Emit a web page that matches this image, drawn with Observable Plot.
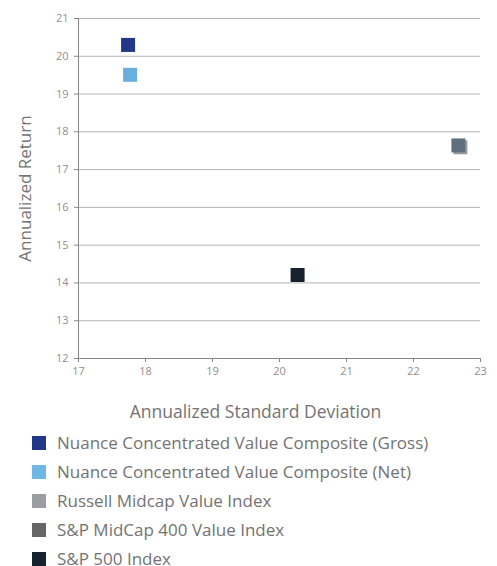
<!DOCTYPE html>
<html><head><meta charset="utf-8">
<script src="https://cdn.jsdelivr.net/npm/d3@7"></script>
<script src="https://cdn.jsdelivr.net/npm/@observablehq/plot@0.6"></script>
<style>
body{margin:0;background:#fff;font-family:"Open Sans",sans-serif;}
#chart svg{display:block;font-family:"Open Sans",sans-serif;}
#chart g[aria-label="x-axis tick label"] text, #chart g[aria-label="y-axis tick label"] text{fill:#8f8f8f;}
#chart g[aria-label="x-axis label"] text{font-size:17.5px;fill:#737373;}
#chart g[aria-label="y-axis label"] text{font-size:17px;fill:#737373;}
#legend{padding:0 0 0 32px;}
.item{display:flex;align-items:center;height:29px;font-size:17px;color:#737373;}
.sw{width:14px;height:14px;margin-right:11px;flex:none;}
</style></head>
<body><div id="chart"></div><div id="legend"></div>
<script>
const series = [
  "Nuance Concentrated Value Composite (Gross)",
  "Nuance Concentrated Value Composite (Net)",
  "Russell Midcap Value Index",
  "S&P MidCap 400 Value Index",
  "S&P 500 Index"
];
const stdDev  = [17.74, 17.77, 22.70, 22.67, 20.27];
const returns = [20.30, 19.51, 17.59, 17.64, 14.21];
const markColors   = ["#21388a", "#6aaee0", "#9a9ea3", "#5e6f7e", "#16232e"];
const legendColors = ["#21388a", "#6fb8e6", "#9a9ea3", "#666666", "#16232e"];
const xTicks = [17, 18, 19, 20, 21, 22, 23];
const yTicks = [12, 13, 14, 15, 16, 17, 18, 19, 20, 21];

const data = series.map((s, i) => ({name: s, x: stdDev[i], y: returns[i]}));

const plot = Plot.plot({
  width: 497,
  height: 428,
  marginTop: 18,
  marginBottom: 70,
  marginLeft: 78,
  marginRight: 17,
  style: {fontSize: "11px", fontFamily: "Open Sans, sans-serif", color: "#888"},
  x: {domain: [17, 23]},
  y: {domain: [12, 21]},
  color: {domain: series, range: markColors},
  marks: [
    Plot.gridY(yTicks.slice(1), {stroke: "#b4b4b4", strokeOpacity: 1, strokeWidth: 1}),
    Plot.ruleX([17], {stroke: "#888", strokeWidth: 1}),
    Plot.ruleY([12], {stroke: "#888", strokeWidth: 1}),
    Plot.axisX(xTicks, {tickSize: 4, tickPadding: 5, stroke: "#888", label: "Annualized Standard Deviation", labelArrow: "none", labelAnchor: "center", labelOffset: 59}),
    Plot.axisY(yTicks, {tickSize: 4, tickPadding: 6, stroke: "#888", label: "Annualized Return", labelArrow: "none", labelAnchor: "center", labelOffset: 60}),
    Plot.dot(data, {x: "x", y: "y", fill: "name", symbol: "square", r: 7.9, stroke: "none"})
  ]
});
const xl = plot.querySelector('g[aria-label="x-axis label"] text');
if (xl) xl.setAttribute("dx", "-24");
document.getElementById("chart").append(plot);

const legend = document.getElementById("legend");
series.forEach((s, i) => {
  const it = document.createElement("div");
  it.className = "item";
  const sw = document.createElement("div");
  sw.className = "sw";
  sw.style.background = legendColors[i];
  const t = document.createElement("span");
  t.textContent = s;
  it.append(sw, t);
  legend.append(it);
});
</script></body></html>
